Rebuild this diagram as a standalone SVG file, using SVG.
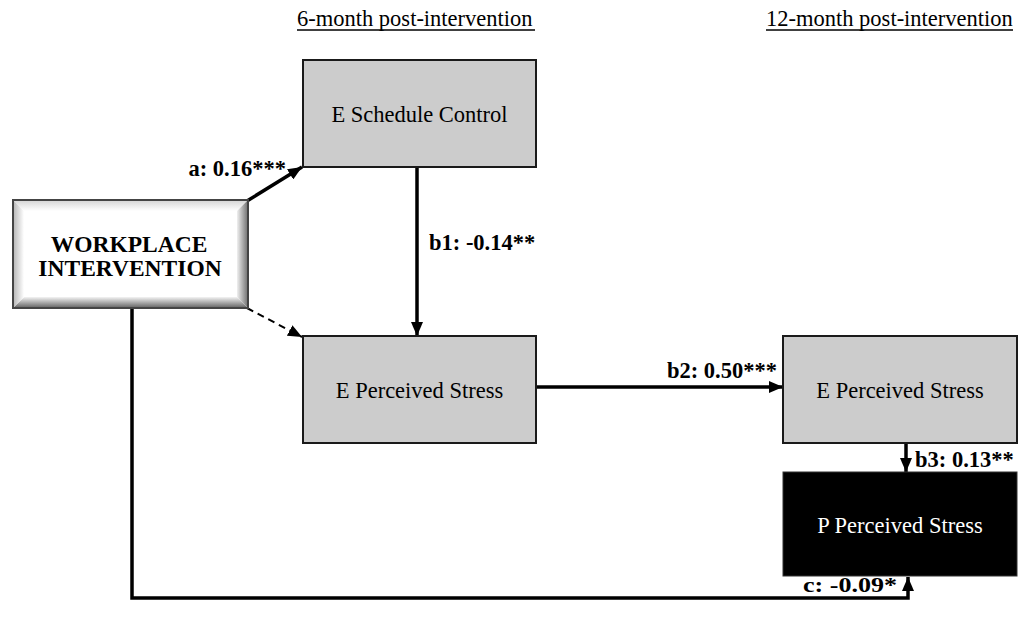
<svg xmlns="http://www.w3.org/2000/svg" width="1021" height="625" viewBox="0 0 1021 625">
<style>
text{font-family:"Liberation Serif","Times New Roman",serif;font-size:22.5px;fill:#000}
.b{font-weight:bold}
.box{fill:#cccccc;stroke:#1a1a1a;stroke-width:2}
.mid{text-anchor:middle}
.conn{stroke:#000;stroke-width:3.5;fill:none}
.dash{stroke:#000;stroke-width:2;fill:none;stroke-dasharray:7 5}
.ul{stroke:#000;stroke-width:1.5}
</style>
<defs>
<marker id="ah" viewBox="0 0 14 12" refX="14" refY="6" markerWidth="14" markerHeight="12" markerUnits="userSpaceOnUse" orient="auto">
<path d="M0,0 L14,6 L0,12 Z" fill="#000"/>
</marker>
<linearGradient id="gt" x1="0" y1="0" x2="0" y2="1"><stop offset="0" stop-color="#d8d8d8"/><stop offset="1" stop-color="#ffffff"/></linearGradient>
<linearGradient id="gb" x1="0" y1="1" x2="0" y2="0"><stop offset="0" stop-color="#6e6e6e"/><stop offset="1" stop-color="#f4f4f4"/></linearGradient>
<linearGradient id="gl" x1="0" y1="0" x2="1" y2="0"><stop offset="0" stop-color="#bbbbbb"/><stop offset="1" stop-color="#ffffff"/></linearGradient>
<linearGradient id="gr" x1="1" y1="0" x2="0" y2="0"><stop offset="0" stop-color="#7a7a7a"/><stop offset="1" stop-color="#f0f0f0"/></linearGradient>
</defs>

<g id="headers">
<text x="297" y="26">6-month post-intervention</text>
<line class="ul" x1="297" y1="30" x2="535" y2="30"/>
<text x="766" y="26">12-month post-intervention</text>
<line class="ul" x1="766" y1="30" x2="1013" y2="30"/>
</g>

<g id="connectors">
<line class="conn" x1="247" y1="201" x2="302" y2="167" marker-end="url(#ah)"/>
<line class="dash" x1="247" y1="308" x2="302" y2="337" marker-end="url(#ah)"/>
<line class="conn" x1="417" y1="167" x2="417" y2="336" marker-end="url(#ah)"/>
<line class="conn" x1="537" y1="387" x2="783" y2="387" marker-end="url(#ah)"/>
<line class="conn" x1="906" y1="444" x2="906" y2="472" marker-end="url(#ah)"/>
<polyline class="conn" points="132,308 132,598 908,598 908,577" marker-end="url(#ah)"/>
<text class="b" x="286" y="176" text-anchor="end">a: 0.16***</text>
<text class="b" x="429" y="250">b1: -0.14**</text>
<text class="b" x="777" y="378" text-anchor="end">b2: 0.50***</text>
<text class="b" x="915" y="467">b3: 0.13**</text>
<text class="b" x="897" y="592" text-anchor="end" style="font-size:21px" textLength="94" lengthAdjust="spacingAndGlyphs">c: -0.09*</text>
</g>

<g id="workplace-intervention">
<rect x="13" y="200" width="235" height="108" fill="#ffffff" stroke="#444" stroke-width="2"/>
<polygon points="14,201 247,201 237,211 24,211" fill="url(#gt)"/>
<polygon points="14,307 247,307 237,297 24,297" fill="url(#gb)"/>
<polygon points="14,201 24,211 24,297 14,307" fill="url(#gl)"/>
<polygon points="247,201 237,211 237,297 247,307" fill="url(#gr)"/>
<text class="b mid" x="129" y="252" style="font-size:23.5px">WORKPLACE</text>
<text class="b mid" x="130" y="276" style="font-size:23.5px">INTERVENTION</text>
</g>

<g id="e-schedule-control">
<rect class="box" x="303" y="60" width="233" height="107"/>
<text class="mid" x="419.5" y="122">E Schedule Control</text>
</g>

<g id="e-perceived-stress-6">
<rect class="box" x="303" y="336" width="233" height="107"/>
<text class="mid" x="419.5" y="398">E Perceived Stress</text>
</g>

<g id="e-perceived-stress-12">
<rect class="box" x="783" y="336" width="234" height="107"/>
<text class="mid" x="900" y="398">E Perceived Stress</text>
</g>

<g id="p-perceived-stress">
<rect x="783" y="472" width="234" height="104" fill="#000" stroke="#333" stroke-width="1"/>
<text class="mid" x="900" y="533" style="fill:#ffffff">P Perceived Stress</text>
</g>
</svg>
